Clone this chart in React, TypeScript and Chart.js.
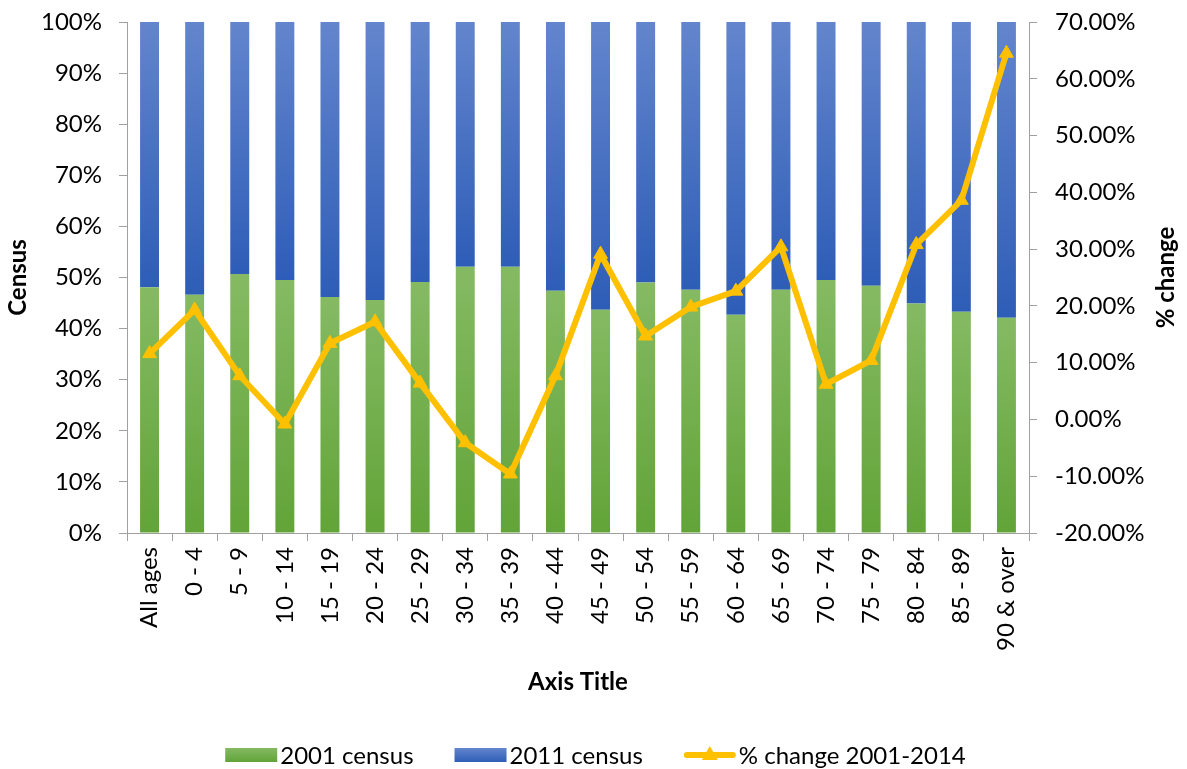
import { useEffect, useRef } from 'react';
import { Chart, registerables } from 'chart.js';

Chart.register(...registerables);

// ---------- data ----------
const categories = [
  'All ages', '0 - 4', '5 - 9', '10 - 14', '15 - 19', '20 - 24', '25 - 29', '30 - 34', '35 - 39', '40 - 44',
  '45 - 49', '50 - 54', '55 - 59', '60 - 64', '65 - 69', '70 - 74', '75 - 79', '80 - 84', '85 - 89', '90 & over',
];
const seriesNames = ['2001 census', '2011 census', '% change 2001-2014'];
const census2001 = [48.1, 46.6, 50.7, 49.5, 46.2, 45.6, 49.1, 52.1, 52.1, 47.4, 43.7, 49.0, 47.6, 42.7, 47.6, 49.5, 48.4, 44.9, 43.3, 42.1];
const census2011 = [51.9, 53.4, 49.3, 50.5, 53.8, 54.4, 50.9, 47.9, 47.9, 52.6, 56.3, 51.0, 52.4, 57.3, 52.4, 50.5, 51.6, 55.1, 56.7, 57.9];
const pctChange = [11.6, 19.3, 7.7, -0.8, 13.4, 17.2, 6.4, -4.1, -9.6, 7.7, 29.1, 14.7, 19.8, 22.6, 30.4, 6.2, 10.4, 30.8, 38.6, 64.5];
const leftAxis = { min: 0, max: 100, step: 10 };
const rightAxis = { min: -20, max: 70, step: 10 };
const titles = { left: 'Census', right: '% change', x: 'Axis Title' };

// ---------- styles ----------
const FONT = "Lato, 'Noto Sans', sans-serif";
const GREEN_TOP = '#85BA63';
const GREEN_BOT = '#62A438';
const BLUE_TOP = '#6385CD';
const BLUE_BOT = '#2E5DB7';
const LINE = '#FFC000';
const AXIS = '#A0A0A0';

function barGradient(ctx: any, top: number, bottom: number, c1: string, c2: string) {
  const g = ctx.createLinearGradient(0, top, 0, bottom);
  g.addColorStop(0, c1);
  g.addColorStop(1, c2);
  return g;
}

const extrasPlugin = {
  id: 'extras',
  afterDraw(chart: any) {
    const { ctx, chartArea, scales } = chart;
    // right axis title, reading bottom-to-top
    ctx.save();
    ctx.font = `bold 24px ${FONT}`;
    ctx.fillStyle = '#000';
    ctx.textAlign = 'center';
    ctx.textBaseline = 'middle';
    ctx.translate(scales.y1.right - 21, (chartArea.top + chartArea.bottom) / 2);
    ctx.rotate(-Math.PI / 2);
    ctx.fillText(titles.right, 0, 0);
    ctx.restore();

    // legend
    ctx.save();
    ctx.font = `24px ${FONT}`;
    ctx.textAlign = 'left';
    ctx.textBaseline = 'middle';
    const SW = 52;
    const GT = 3;
    const GI = 41;
    const widths = seriesNames.map((n) => SW + GT + ctx.measureText(n).width);
    const total = widths.reduce((a, b) => a + b, 0) + GI * (seriesNames.length - 1);
    let x = chart.width / 2 + 2 - total / 2;
    const cy = 755;
    seriesNames.forEach((name, i) => {
      if (i < 2) {
        const c1 = i === 0 ? GREEN_TOP : BLUE_TOP;
        const c2 = i === 0 ? GREEN_BOT : BLUE_BOT;
        ctx.fillStyle = barGradient(ctx, cy - 7, cy + 7, c1, c2);
        ctx.fillRect(x, cy - 7, SW, 14);
      } else {
        ctx.strokeStyle = LINE;
        ctx.lineWidth = 6;
        ctx.lineCap = 'round';
        ctx.beginPath();
        ctx.moveTo(x + 3, cy);
        ctx.lineTo(x + SW - 3, cy);
        ctx.stroke();
        const mx = x + SW / 2;
        ctx.fillStyle = LINE;
        ctx.beginPath();
        ctx.moveTo(mx, cy - 9);
        ctx.lineTo(mx + 8, cy + 5);
        ctx.lineTo(mx - 8, cy + 5);
        ctx.closePath();
        ctx.fill();
      }
      ctx.fillStyle = '#000';
      ctx.fillText(name, x + SW + GT, cy + 1);
      x += widths[i] + GI;
    });
    ctx.restore();
  },
};

export default function App() {
  const ref = useRef<HTMLCanvasElement | null>(null);

  useEffect(() => {
    document.body.style.margin = '0';
    const canvas = ref.current;
    if (!canvas) return;
    Chart.defaults.font.family = FONT;

    const chart = new Chart(canvas, {
      type: 'bar',
      data: {
        labels: categories,
        datasets: [
          {
            type: 'line',
            label: seriesNames[2],
            data: pctChange,
            yAxisID: 'y1',
            order: 0,
            borderColor: LINE,
            borderWidth: 6,
            backgroundColor: LINE,
            pointStyle: 'triangle',
            pointRadius: 8,
            pointBorderWidth: 1,
            pointBackgroundColor: LINE,
            pointBorderColor: LINE,
            tension: 0,
            fill: false,
          } as any,
          {
            type: 'bar',
            label: seriesNames[0],
            data: census2001,
            yAxisID: 'y',
            order: 1,
            barPercentage: 0.42,
            categoryPercentage: 1,
            backgroundColor: (c: any) => {
              const ch = c.chart;
              if (!ch.chartArea || c.type !== 'data') return GREEN_TOP;
              const ys = ch.scales.y;
              const top = ys.getPixelForValue(census2001[c.dataIndex]);
              const bottom = ys.getPixelForValue(0);
              return barGradient(ch.ctx, top, bottom, GREEN_TOP, GREEN_BOT);
            },
          },
          {
            type: 'bar',
            label: seriesNames[1],
            data: census2011,
            yAxisID: 'y',
            order: 2,
            barPercentage: 0.42,
            categoryPercentage: 1,
            backgroundColor: (c: any) => {
              const ch = c.chart;
              if (!ch.chartArea || c.type !== 'data') return BLUE_TOP;
              const ys = ch.scales.y;
              const top = ys.getPixelForValue(census2001[c.dataIndex] + census2011[c.dataIndex]);
              const bottom = ys.getPixelForValue(census2001[c.dataIndex]);
              return barGradient(ch.ctx, top, bottom, BLUE_TOP, BLUE_BOT);
            },
          },
        ],
      },
      options: {
        responsive: false,
        animation: false,
        devicePixelRatio: 1,
        events: [],
        layout: { padding: { top: 22, bottom: 60, left: 0, right: 0 } },
        plugins: {
          legend: { display: false },
          tooltip: { enabled: false },
        },
        scales: {
          x: {
            stacked: true,
            afterFit: (s: any) => {
              s.height = 176;
            },
            grid: {
              display: true,
              offset: true,
              drawOnChartArea: false,
              drawTicks: true,
              tickLength: 8,
              color: AXIS,
            },
            border: { display: true, color: AXIS, width: 1 },
            ticks: {
              autoSkip: false,
              minRotation: 90,
              maxRotation: 90,
              padding: 6,
              color: '#000',
              font: { size: 24, family: FONT },
            },
            title: {
              display: true,
              text: titles.x,
              color: '#000',
              font: { size: 24, weight: 'bold', family: FONT },
              padding: { top: 0, bottom: 12 },
            },
          },
          y: {
            type: 'linear',
            position: 'left',
            stacked: true,
            min: leftAxis.min,
            max: leftAxis.max,
            afterFit: (s: any) => {
              s.width = 127;
              s.paddingTop = 0;
              s.paddingBottom = 0;
            },
            grid: {
              display: true,
              drawOnChartArea: false,
              drawTicks: true,
              tickLength: 8,
              color: AXIS,
            },
            border: { display: true, color: AXIS, width: 1 },
            ticks: {
              stepSize: leftAxis.step,
              padding: 17,
              color: '#000',
              font: { size: 24, family: FONT },
              callback: (v: any) => `${v}%`,
            },
            title: {
              display: true,
              text: titles.left,
              color: '#000',
              font: { size: 24, weight: 'bold', family: FONT },
              padding: { top: 4, bottom: 0 },
            },
          },
          y1: {
            type: 'linear',
            position: 'right',
            stacked: false,
            min: rightAxis.min,
            max: rightAxis.max,
            afterFit: (s: any) => {
              s.width = 158;
              s.paddingTop = 0;
              s.paddingBottom = 0;
            },
            grid: {
              display: true,
              drawOnChartArea: false,
              drawTicks: true,
              tickLength: 8,
              color: AXIS,
            },
            border: { display: true, color: AXIS, width: 1 },
            ticks: {
              stepSize: rightAxis.step,
              padding: 18,
              color: '#000',
              font: { size: 24, family: FONT },
              callback: (v: any) => `${Number(v).toFixed(2)}%`,
            },
          },
        },
      } as any,
      plugins: [extrasPlugin],
    });

    return () => chart.destroy();
  }, []);

  return (
    <div style={{ width: 1187, height: 769, background: '#fff' }}>
      <canvas ref={ref} width={1187} height={769} style={{ display: 'block', width: 1187, height: 769 }} />
    </div>
  );
}
